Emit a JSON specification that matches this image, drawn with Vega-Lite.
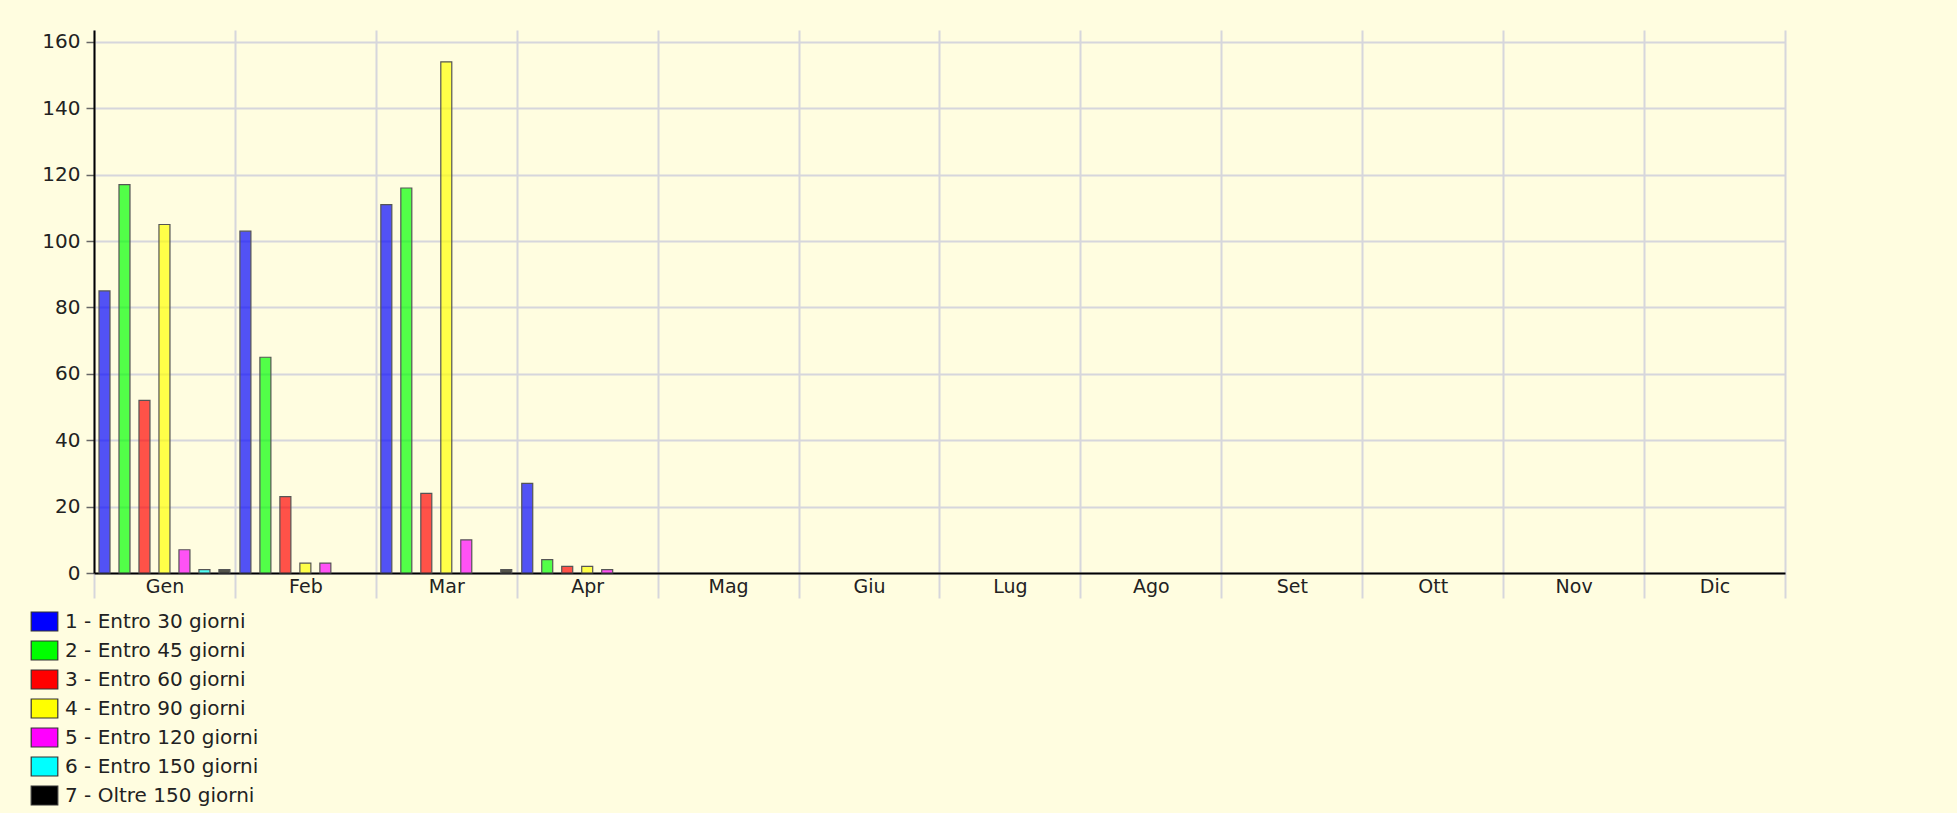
{
  "$schema": "https://vega.github.io/schema/vega-lite/v6.json",
  "width": 1691,
  "height": 543,
  "autosize": {"type": "none"},
  "padding": {"left": 94, "top": 30, "right": 172, "bottom": 240},
  "background": "#fffde0",
  "config": {
    "view": {"stroke": null},
    "font": "DejaVu Sans"
  },
  "data": {
    "values": [
      {"mese": "Gen", "fascia": "1 - Entro 30 giorni", "valore": 85},
      {"mese": "Gen", "fascia": "2 - Entro 45 giorni", "valore": 117},
      {"mese": "Gen", "fascia": "3 - Entro 60 giorni", "valore": 52},
      {"mese": "Gen", "fascia": "4 - Entro 90 giorni", "valore": 105},
      {"mese": "Gen", "fascia": "5 - Entro 120 giorni", "valore": 7},
      {"mese": "Gen", "fascia": "6 - Entro 150 giorni", "valore": 1},
      {"mese": "Gen", "fascia": "7 - Oltre 150 giorni", "valore": 1},
      {"mese": "Feb", "fascia": "1 - Entro 30 giorni", "valore": 103},
      {"mese": "Feb", "fascia": "2 - Entro 45 giorni", "valore": 65},
      {"mese": "Feb", "fascia": "3 - Entro 60 giorni", "valore": 23},
      {"mese": "Feb", "fascia": "4 - Entro 90 giorni", "valore": 3},
      {"mese": "Feb", "fascia": "5 - Entro 120 giorni", "valore": 3},
      {"mese": "Mar", "fascia": "1 - Entro 30 giorni", "valore": 111},
      {"mese": "Mar", "fascia": "2 - Entro 45 giorni", "valore": 116},
      {"mese": "Mar", "fascia": "3 - Entro 60 giorni", "valore": 24},
      {"mese": "Mar", "fascia": "4 - Entro 90 giorni", "valore": 154},
      {"mese": "Mar", "fascia": "5 - Entro 120 giorni", "valore": 10},
      {"mese": "Mar", "fascia": "7 - Oltre 150 giorni", "valore": 1},
      {"mese": "Apr", "fascia": "1 - Entro 30 giorni", "valore": 27},
      {"mese": "Apr", "fascia": "2 - Entro 45 giorni", "valore": 4},
      {"mese": "Apr", "fascia": "3 - Entro 60 giorni", "valore": 2},
      {"mese": "Apr", "fascia": "4 - Entro 90 giorni", "valore": 2},
      {"mese": "Apr", "fascia": "5 - Entro 120 giorni", "valore": 1}
    ]
  },
  "mark": {"type": "bar", "stroke": "#555555", "strokeWidth": 1.2, "fillOpacity": 0.68},
  "encoding": {
    "x": {
      "field": "mese",
      "type": "nominal",
      "sort": null,
      "scale": {
        "domain": ["Gen", "Feb", "Mar", "Apr", "Mag", "Giu", "Lug", "Ago", "Set", "Ott", "Nov", "Dic"],
        "paddingInner": 0,
        "paddingOuter": 0
      },
      "axis": {
        "title": null,
        "labelAngle": 0,
        "labelFontSize": 19,
        "labelColor": "#222222",
        "labelPadding": -21,
        "tickBand": "extent",
        "tickSize": 25,
        "tickColor": "#d6d6dc",
        "tickWidth": 2,
        "grid": true,
        "gridColor": "#d6d6dc",
        "gridWidth": 2,
        "domainColor": "#000000",
        "domainWidth": 2
      }
    },
    "xOffset": {
      "field": "fascia",
      "type": "nominal",
      "scale": {"paddingInner": 0.45, "paddingOuter": 0.25}
    },
    "y": {
      "field": "valore",
      "type": "quantitative",
      "scale": {"domain": [0, 163.6], "nice": false},
      "axis": {
        "title": null,
        "values": [0, 20, 40, 60, 80, 100, 120, 140, 160],
        "labelFontSize": 20,
        "labelColor": "#222222",
        "labelPadding": 6,
        "tickSize": 8,
        "tickColor": "#666666",
        "tickWidth": 1.5,
        "grid": true,
        "gridColor": "#d6d6dc",
        "gridWidth": 2,
        "domainColor": "#000000",
        "domainWidth": 2
      }
    },
    "color": {
      "field": "fascia",
      "type": "nominal",
      "scale": {
        "domain": ["1 - Entro 30 giorni", "2 - Entro 45 giorni", "3 - Entro 60 giorni", "4 - Entro 90 giorni", "5 - Entro 120 giorni", "6 - Entro 150 giorni", "7 - Oltre 150 giorni"],
        "range": ["#0000ff", "#00ff00", "#ff0000", "#ffff00", "#ff00ff", "#00ffff", "#000000"]
      },
      "legend": {
        "title": null,
        "orient": "none",
        "legendX": -60,
        "legendY": 581,
        "direction": "vertical",
        "labelFontSize": 20,
        "labelColor": "#222222",
        "labelOffset": 10,
        "labelLimit": 0,
        "labelFont": "DejaVu Sans",
        "symbolType": "M-1.4,-1H1.4V1H-1.4Z",
        "symbolSize": 361,
        "symbolOpacity": 1,
        "symbolFillOpacity": 1,
        "symbolStrokeColor": "#333333",
        "symbolStrokeWidth": 1.2,
        "rowPadding": 4
      }
    }
  }
}
